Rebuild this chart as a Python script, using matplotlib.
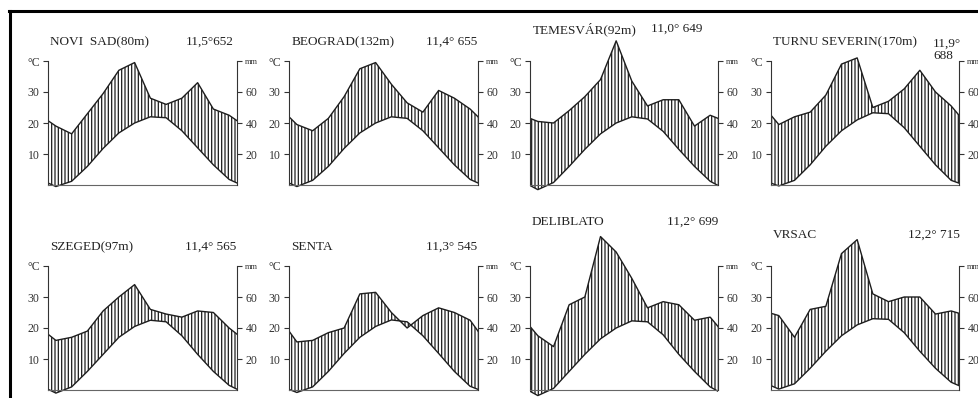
import matplotlib
matplotlib.use('Agg')
import matplotlib.pyplot as plt
from matplotlib.lines import Line2D
import numpy as np

plt.rcParams['font.family'] = ['Liberation Serif', 'DejaVu Serif']
plt.rcParams['hatch.linewidth'] = 0.9

# climate diagrams (Walter-Lieth style): temp in C, precip in mm, 10 C = 20 mm
months = np.arange(1, 13)

names = ['NOVI  SAD(80m)', 'BEOGRAD(132m)', 'TEMESVÁR(92m)', 'TURNU SEVERIN(170m)',
         'SZEGED(97m)', 'SENTA', 'DELIBLATO', 'VRSAC']
info = ['11,5°652', '11,4° 655', '11,0° 649', '11,9°\n688',
        '11,4° 565', '11,3° 545', '11,2° 699', '12,2° 715']

temp_novisad = [-0.5, 1.2, 6.0, 11.8, 16.8, 20.0, 22.0, 21.7, 17.5, 12.0, 6.5, 1.8]
temp_beograd = [-0.5, 1.5, 6.0, 11.8, 16.8, 20.0, 22.0, 21.5, 17.5, 12.0, 6.5, 1.8]
temp_temesvar = [-1.5, 0.8, 6.0, 11.5, 16.5, 20.0, 22.0, 21.3, 17.3, 11.5, 6.0, 1.2]
temp_turnu = [-0.3, 1.5, 6.5, 12.5, 17.5, 21.0, 23.3, 23.0, 18.5, 12.5, 6.5, 1.5]
temp_szeged = [-1.0, 1.0, 6.0, 11.5, 17.0, 20.5, 22.5, 22.0, 17.5, 11.5, 6.0, 1.5]
temp_senta = [-0.8, 1.0, 6.0, 11.8, 17.0, 20.5, 22.6, 22.0, 17.5, 11.8, 6.0, 1.2]
temp_deliblato = [-1.8, 0.5, 6.0, 11.5, 16.5, 20.0, 22.3, 22.0, 17.8, 11.5, 6.0, 1.0]
temp_vrsac = [0.3, 2.0, 7.0, 12.5, 17.5, 21.0, 23.0, 22.8, 18.5, 12.5, 7.0, 2.5]

prec_novisad = [38, 33, 46, 59, 74, 79, 56, 52, 56, 66, 49, 45]
prec_beograd = [39, 35, 43, 57, 75, 79, 65, 53, 47, 61, 56, 49]
prec_temesvar = [41, 40, 48, 57, 68, 93, 67, 51, 55, 55, 38, 45]
prec_turnu = [39, 44, 47, 58, 78, 82, 50, 54, 62, 74, 60, 51]
prec_szeged = [32, 34, 38, 51, 60, 68, 52, 49, 47, 51, 50, 40]
prec_senta = [31, 32, 37, 40, 62, 63, 50, 40, 48, 53, 50, 45]
prec_deliblato = [35, 28, 55, 60, 99, 89, 72, 53, 57, 55, 45, 47]
prec_vrsac = [48, 34, 52, 54, 88, 97, 62, 57, 60, 60, 49, 51]

temps = [temp_novisad, temp_beograd, temp_temesvar, temp_turnu,
         temp_szeged, temp_senta, temp_deliblato, temp_vrsac]
precs = [prec_novisad, prec_beograd, prec_temesvar, prec_turnu,
         prec_szeged, prec_senta, prec_deliblato, prec_vrsac]

W, H = 979, 398
fig = plt.figure(figsize=(W / 100, H / 100), dpi=100)

# layout in pixels
col_l = [48, 289, 530, 771]
col_r = [237, 478, 718, 959]
row_zero = [185, 390]
px_per_deg = 3.1
ymin, ymax = -5, 55

title_pos = [(50, 42), (292, 42), (533, 29), (773, 42),
             (50, 247), (291, 247), (532, 222), (773, 235)]
info_pos = [(234, 42, 'right'), (477, 42, 'right'), (651, 29, 'left'), (933, 50, 'left'),
            (236, 247, 'right'), (477, 247, 'right'), (718, 222, 'right'), (960, 235, 'right')]

line_c = '#1e1e1e'
xs = np.concatenate([[0], months, [13]])

for i in range(8):
    r, c = divmod(i, 4)
    left, right = col_l[c], col_r[c]
    top = row_zero[r] - ymax * px_per_deg
    bottom = row_zero[r] - ymin * px_per_deg
    ax = fig.add_axes([left / W, 1 - bottom / H, (right - left) / W, (bottom - top) / H])
    ax.set_facecolor('none')

    t = np.array(temps[i], dtype=float)
    p = np.array(precs[i], dtype=float) / 2.0
    tw = np.concatenate([[t[-1]], t, [t[0]]])
    pw = np.concatenate([[p[-1]], p, [p[0]]])

    ax.fill_between(xs, tw, pw, facecolor='none', edgecolor=line_c,
                    hatch='|||||', linewidth=0)
    ax.plot(xs, tw, color=line_c, lw=1.0)
    ax.plot(xs, pw, color=line_c, lw=1.0)

    ax.set_xlim(0.5, 12.5)
    ax.set_ylim(ymin, ymax)

    ax.spines['top'].set_visible(False)
    ax.spines['right'].set_visible(False)
    ax.spines['left'].set_bounds(0, 40)
    ax.spines['left'].set_color('#333333')
    ax.spines['left'].set_linewidth(0.8)
    ax.spines['bottom'].set_position(('data', 0))
    ax.spines['bottom'].set_bounds(0.5, 12.5)
    ax.spines['bottom'].set_color('#666666')
    ax.spines['bottom'].set_linewidth(0.8)
    ax.set_xticks([])
    ax.set_yticks([10, 20, 30, 40])
    ax.set_yticklabels(['10', '20', '30', '°C'])
    ax.tick_params(axis='y', direction='out', length=3.5, width=0.8, pad=2.5,
                   labelsize=8.5, colors='#333333')

    ax2 = ax.twinx()
    ax2.set_ylim(2 * ymin, 2 * ymax)
    for s in ['top', 'left', 'bottom']:
        ax2.spines[s].set_visible(False)
    ax2.spines['right'].set_bounds(0, 80)
    ax2.spines['right'].set_color('#333333')
    ax2.spines['right'].set_linewidth(0.8)
    ax2.set_yticks([20, 40, 60, 80])
    ax2.set_yticklabels(['20', '40', '60', 'mm'])
    ax2.tick_params(axis='y', direction='out', length=3.5, width=0.8, pad=2.5,
                    labelsize=8.5, colors='#333333')
    ax2.get_yticklabels()[-1].set_fontsize(6)

    tx, ty = title_pos[i]
    fig.text(tx / W, 1 - ty / H, names[i], ha='left', va='center',
             fontsize=9.5, color='#222222')
    ix, iy, iha = info_pos[i]
    fig.text(ix / W, 1 - iy / H, info[i], ha=iha, va='center',
             fontsize=9.5, color='#222222', linespacing=1.1)

# frame lines at top and left
fig.add_artist(Line2D([10 / W, 10 / W], [0, 1 - 11 / H], color='black', lw=2.2,
                      transform=fig.transFigure))
fig.add_artist(Line2D([9 / W, 1], [1 - 11 / H, 1 - 11 / H], color='black', lw=2.2,
                      transform=fig.transFigure))

fig.savefig('out.png', dpi=100, facecolor='white')
